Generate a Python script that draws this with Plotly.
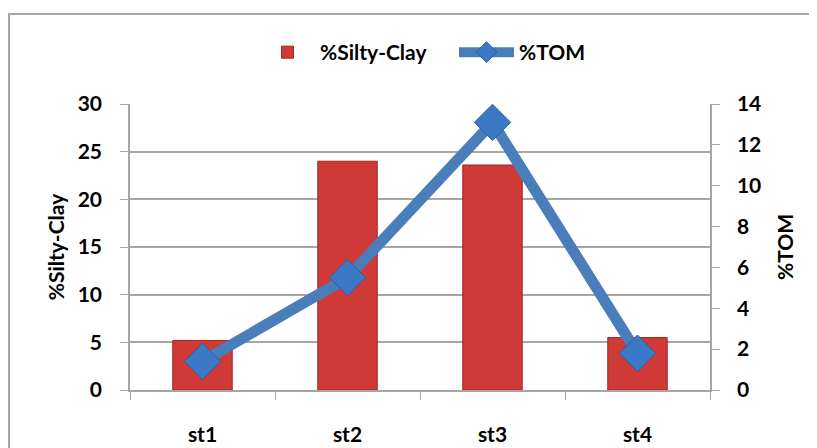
import plotly.graph_objects as go

categories = ["st1", "st2", "st3", "st4"]
silty_clay = [5.2, 24.0, 23.6, 5.5]
tom = [1.4, 5.5, 13.1, 1.8]
left_ticks = [0, 5, 10, 15, 20, 25, 30]
right_ticks = [0, 2, 4, 6, 8, 10, 12, 14]

FONT = "Lato"
GRID = "#a6a6a6"

# page body has an 8px margin, so the figure is drawn at (8, 8)
L, T = 122, 96
PW, PH = 580, 286
W, H = 817, 448

fig = go.Figure()
fig.add_trace(go.Bar(
    x=categories, y=silty_clay, name="%Silty-Clay",
    width=0.41,
    marker=dict(color="#cf3a36", line=dict(color="#9a2825", width=1)),
    yaxis="y",
))
fig.add_trace(go.Scatter(
    x=categories, y=tom, name="%TOM", mode="lines+markers",
    line=dict(color="#4a7ebb", width=11),
    marker=dict(symbol="diamond", size=28, color="#3b78c6",
                line=dict(color="#2c5d9c", width=1)),
    yaxis="y2",
))

fig.update_layout(
    width=W, height=H,
    margin=dict(l=L, r=W - L - PW, t=T, b=H - T - PH, autoexpand=False),
    paper_bgcolor="white", plot_bgcolor="white",
    font=dict(family=FONT, size=21, color="black"),
    showlegend=True,
    legend=dict(orientation="h", x=(247 - L) / PW, xanchor="left", y=1.18, yanchor="middle",
                font=dict(family=FONT, size=21, color="black", weight="bold"),
                itemwidth=55, entrywidth=129, traceorder="normal",
                bgcolor="rgba(0,0,0,0)"),
    xaxis=dict(type="category", range=[-0.5, 3.5], showline=True, linecolor=GRID,
               linewidth=1.5, ticks="outside", tickson="boundaries", ticklen=8,
               tickcolor=GRID, showgrid=False, ticklabelstandoff=25,
               tickfont=dict(family=FONT, size=21, color="black", weight="bold")),
    yaxis=dict(range=[0, 30], tickvals=left_ticks, showline=True, linecolor=GRID,
               linewidth=1.5, ticks="outside", ticklen=8, tickcolor=GRID,
               showgrid=True, gridcolor=GRID, gridwidth=1.5, zeroline=False,
               ticklabelstandoff=14,
               tickfont=dict(family=FONT, size=21, color="black", weight="bold"),
               title=dict(text="%Silty-Clay", standoff=7,
                          font=dict(family=FONT, size=21, color="black", weight="bold"))),
    yaxis2=dict(range=[0, 14], tickvals=right_ticks, overlaying="y", side="right",
                showline=True, linecolor=GRID, linewidth=1.5, ticks="outside",
                ticklen=8, tickcolor=GRID, showgrid=False, zeroline=False,
                ticklabelstandoff=13,
                tickfont=dict(family=FONT, size=21, color="black", weight="bold"),
                title=dict(text="%TOM", standoff=18,
                           font=dict(family=FONT, size=21, color="black", weight="bold"))),
    shapes=[dict(type="rect", xref="paper", yref="paper",
                 x0=(1 - L) / PW, x1=1.4, y0=-0.4, y1=(T + PH - 6) / PH,
                 line=dict(color="#a6a6a6", width=2), layer="below")],
)

fig.write_html("out.html")
